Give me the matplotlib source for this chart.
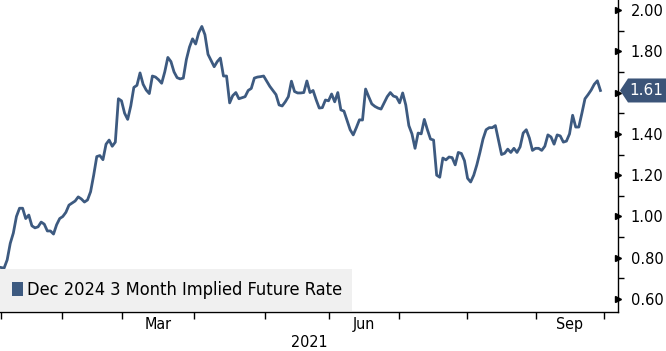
import matplotlib.pyplot as plt
import matplotlib.transforms as mtransforms
from matplotlib.patches import Polygon, Rectangle

# Dec 2024 3M implied future rate, one value per trading day (Jan-Sep 2021)
rate = [
    0.753, 0.75, 0.79, 0.87, 0.92, 1.0, 1.04, 1.04, 0.99, 1.007,
    0.955, 0.945, 0.95, 0.973, 0.963, 0.93, 0.93, 0.915, 0.96, 0.99,
    1.0, 1.02, 1.055, 1.065, 1.075, 1.095, 1.085, 1.07, 1.08, 1.12,
    1.2, 1.29, 1.295, 1.275, 1.35, 1.37, 1.34, 1.36, 1.57, 1.56,
    1.5, 1.47, 1.535, 1.625, 1.635, 1.695, 1.64, 1.612, 1.595, 1.68,
    1.675, 1.662, 1.645, 1.70, 1.77, 1.75, 1.70, 1.672, 1.666, 1.67,
    1.76, 1.82, 1.86, 1.835, 1.89, 1.92, 1.88, 1.785, 1.755, 1.725,
    1.75, 1.767, 1.68, 1.68, 1.55, 1.585, 1.60, 1.57, 1.575, 1.58,
    1.61, 1.62, 1.67, 1.675, 1.677, 1.68, 1.655, 1.63, 1.61, 1.59,
    1.54, 1.535, 1.555, 1.58, 1.655, 1.605, 1.598, 1.598, 1.60, 1.656,
    1.60, 1.61, 1.565, 1.525, 1.527, 1.564, 1.56, 1.593, 1.555, 1.60,
    1.516, 1.51, 1.465, 1.42, 1.395, 1.43, 1.468, 1.467, 1.617, 1.58,
    1.545, 1.533, 1.525, 1.52, 1.55, 1.58, 1.60, 1.583, 1.578, 1.55,
    1.598, 1.54, 1.44, 1.40, 1.33, 1.404, 1.40, 1.47, 1.42, 1.375,
    1.37, 1.20, 1.19, 1.283, 1.274, 1.288, 1.285, 1.25, 1.31, 1.305,
    1.27, 1.185, 1.167, 1.20, 1.25, 1.31, 1.375, 1.42, 1.43, 1.43,
    1.44, 1.37, 1.30, 1.306, 1.326, 1.31, 1.33, 1.31, 1.337, 1.404,
    1.42, 1.38, 1.32, 1.33, 1.33, 1.32, 1.34, 1.395, 1.385, 1.35,
    1.395, 1.39, 1.36, 1.365, 1.40, 1.49, 1.433, 1.433, 1.50, 1.57,
    1.59, 1.612, 1.64, 1.657, 1.61,
]

# month boundaries in trading-day units (Jan 1 .. Oct 1)
month_edges = [0, 19.7, 39.2, 62.5, 85.4, 106.1, 128.8, 150.8, 173.1, 195.1]
month_labels = {2: "Mar", 5: "Jun", 8: "Sep"}
y_ticks = [0.6, 0.8, 1.0, 1.2, 1.4, 1.6, 1.8, 2.0]
y_minor = [0.7, 0.9, 1.1, 1.3, 1.5, 1.7, 1.9]
series_name = "Dec 2024 3 Month Implied Future Rate"
year_label = "2021"

line_color = "#3d5a80"
narrow = dict(family="DejaVu Sans", stretch="condensed")

fig = plt.figure(figsize=(6.66, 3.51), dpi=100)
ax = fig.add_axes([0.0, 0.111, 0.928, 0.889])

x = list(range(len(rate)))
ax.plot(x, rate, color=line_color, lw=2.0, solid_joinstyle="round")

ax.set_xlim(-0.32, 199.7)
ax.set_ylim(0.5375, 2.048)

for s in ["top", "left"]:
    ax.spines[s].set_visible(False)
ax.spines["right"].set_linewidth(1.0)
ax.spines["bottom"].set_linewidth(1.0)

# right axis ticks; the 1.60 label sits under the last-value tag
ax.yaxis.tick_right()
ax.set_yticks(y_ticks)
ax.set_yticks(y_minor, minor=True)
ax.set_yticklabels(["" if abs(v - 1.6) < 1e-9 else f"{v:.2f}" for v in y_ticks])
ax.tick_params(axis="y", which="major", length=0, pad=9, labelsize=10.5)
ax.tick_params(axis="y", which="minor", length=4, width=1)
trans_r = mtransforms.blended_transform_factory(ax.transAxes, ax.transData)
ax.plot([1.0] * len(y_ticks), y_ticks, linestyle="none", marker=">",
        markersize=5, color="black", transform=trans_r, clip_on=False)

# bottom axis: ticks on month edges, labels centered in months
ax.set_xticks(month_edges)
ax.set_xticklabels([])
ax.tick_params(axis="x", which="major", length=5, width=1)
trans_b = mtransforms.blended_transform_factory(ax.transData, ax.transAxes)
for i, lab in month_labels.items():
    xc = (month_edges[i] + month_edges[i + 1]) / 2
    ax.text(xc, -0.015, lab, transform=trans_b, ha="center", va="top",
            fontsize=11.5, **narrow)
ax.text(0.5, -0.075, year_label, transform=ax.transAxes, ha="center",
        va="top", fontsize=11.5, **narrow)

# legend box
ax.add_patch(Rectangle((0, 0.003), 0.57, 0.135, transform=ax.transAxes,
                       facecolor="#f0f0f0", edgecolor="none", zorder=3))
ax.add_patch(Rectangle((0.02, 0.05), 0.017, 0.045, transform=ax.transAxes,
                       facecolor=line_color, edgecolor="none", zorder=4))
ax.text(0.043, 0.07, series_name, transform=ax.transAxes, va="center",
        ha="left", fontsize=13.1, zorder=5, **narrow)

# last value tag
last = rate[-1]
y0 = ax.transData.transform((0, last))[1]
fig_h = fig.bbox.height
yc = y0 / fig_h
h = 12 / fig_h
fw = fig.bbox.width
pts = [(620 / fw, yc), (628 / fw, yc + h), (1.0, yc + h), (1.0, yc - h),
       (628 / fw, yc - h)]
fig.patches.append(Polygon(pts, closed=True, transform=fig.transFigure,
                           facecolor="#3b5478", edgecolor="none"))
fig.text(646 / fw, yc, f"{last:.2f}", color="white", ha="center",
         va="center", fontsize=11)

fig.savefig("out.png", dpi=100)
